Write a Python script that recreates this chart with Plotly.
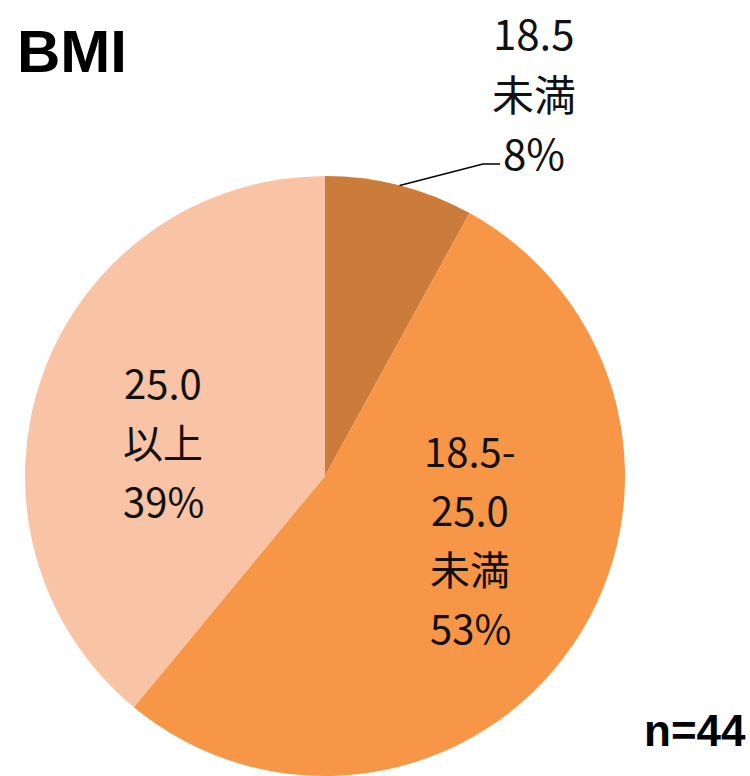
import math
import plotly.graph_objects as go

# BMI category shares (%), clockwise from 12 o'clock
categories = ["18.5未満", "18.5-25.0未満", "25.0以上"]
label_lines = [["18.5", "未満"], ["18.5-", "25.0", "未満"], ["25.0", "以上"]]
shares = [8, 53, 39]
colors = ["#CB7B3A", "#F79646", "#F9C3A6"]
sample_size = 44

W, H = 750, 776
CX, CY, R = 325, 476, 300  # pie centre / radius in pixels

fig = go.Figure(go.Pie(
    labels=categories,
    values=shares,
    sort=False,
    direction="clockwise",
    rotation=0,
    marker=dict(colors=colors, line=dict(width=0)),
    textinfo="none",
    hoverinfo="label+percent",
    showlegend=False,
    domain=dict(x=[0, 2 * CX / W], y=[0, 2 * R / H]),
))


def px(x):
    return x / W


def py(y):
    return 1 - y / H


annotations = []
font_lbl = dict(family="Noto Sans CJK JP", color="#111111")

# label anchor points (pixel centres) and line spacing per slice
label_pos = [(534, 32, 42), (470, 450, 40), (163, 382, 40)]
line_gap = [60, 59, 59]

for i, (lines, val) in enumerate(zip(label_lines, shares)):
    x0, y0, size = label_pos[i]
    rows = lines + [f"{val}%"]
    for k, row in enumerate(rows):
        annotations.append(dict(
            x=px(x0), y=py(y0 + k * line_gap[i]), xref="paper", yref="paper",
            text=row, showarrow=False, xanchor="center", yanchor="middle",
            font=dict(size=size, **font_lbl),
        ))

# leader line from the middle of the smallest slice's rim to its label
mid_angle = math.radians(360 * (shares[0] / 2) / sum(shares))
ex = CX + R * math.sin(mid_angle)
ey = CY - R * math.cos(mid_angle)
elbow = (483, 164)
end = (500, 164)
fig.add_shape(
    type="path", xref="paper", yref="paper",
    path=f"M {px(ex)},{py(ey)} L {px(elbow[0])},{py(elbow[1])} L {px(end[0])},{py(end[1])}",
    line=dict(color="#000000", width=1.5),
)

annotations.append(dict(
    x=px(15), y=py(52), xref="paper", yref="paper", text="<b>BMI</b>",
    showarrow=False, xanchor="left", yanchor="middle",
    font=dict(family="Liberation Sans", size=60, color="#000000"),
))
annotations.append(dict(
    x=px(748), y=py(730), xref="paper", yref="paper", text=f"<b>n={sample_size}</b>",
    showarrow=False, xanchor="right", yanchor="middle",
    font=dict(family="Liberation Sans", size=44, color="#000000"),
))

fig.update_layout(
    width=W, height=H,
    margin=dict(l=0, r=0, t=0, b=0),
    paper_bgcolor="white", plot_bgcolor="white",
    annotations=annotations,
)

fig.write_html("out.html")
